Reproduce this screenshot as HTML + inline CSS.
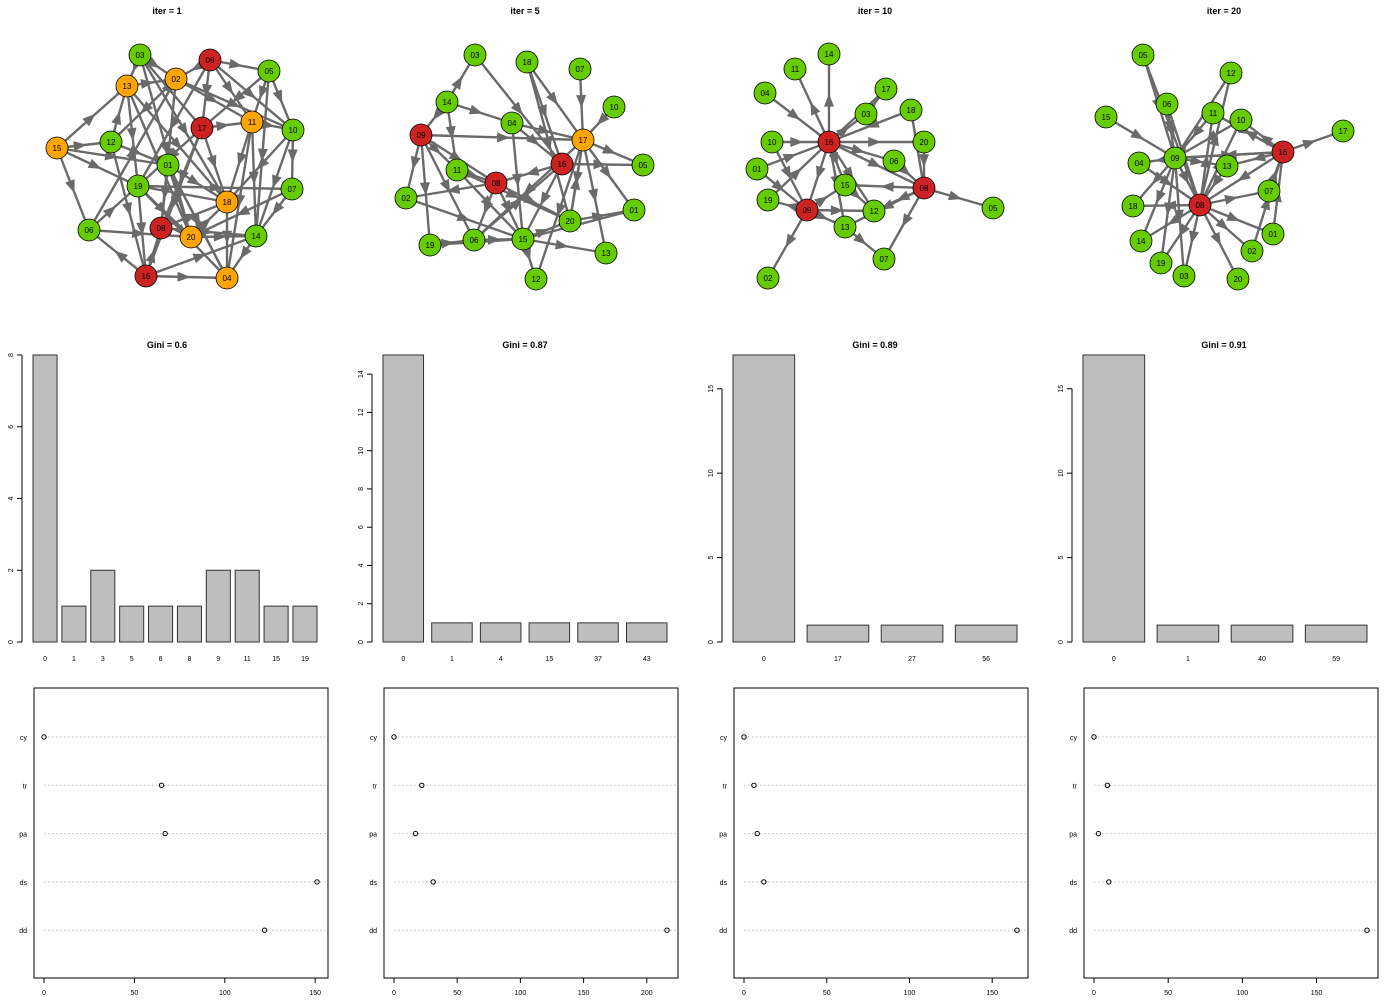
<!DOCTYPE html>
<html><head><meta charset="utf-8"><style>
body{margin:0;background:#fff;}
svg{display:block;font-family:"Liberation Sans",sans-serif;}
</style></head><body>
<svg id="c" width="1400" height="1000" viewBox="0 0 1400 1000"></svg>
<script>
// ---------- data ----------
const iterTitles = ["iter = 1","iter = 5","iter = 10","iter = 20"];
const giniTitles = ["Gini = 0.6","Gini = 0.87","Gini = 0.89","Gini = 0.91"];
const nodes1 = {"03":[140,55,"g"],"09":[210,60,"r"],"05":[269,71,"g"],"13":[127,86,"o"],"02":[176,79,"o"],"17":[202,128,"r"],"11":[252,122,"o"],"10":[293,130,"g"],"12":[111,142,"g"],"15":[57,148,"o"],"01":[168,165,"g"],"19":[138,186,"g"],"07":[292,189,"g"],"18":[227,202,"o"],"06":[89,230,"g"],"08":[161,228,"r"],"20":[191,237,"o"],"14":[256,236,"g"],"16":[146,276,"r"],"04":[227,278,"o"]};
const nodes2 = {"03":[475,55,"g"],"18":[527,62,"g"],"07":[580,69,"g"],"10":[614,107,"g"],"14":[447,102,"g"],"04":[512,123,"g"],"09":[421,135,"r"],"17":[583,140,"o"],"16":[562,164,"r"],"05":[643,165,"g"],"11":[457,170,"g"],"08":[496,183,"r"],"02":[406,198,"g"],"01":[634,210,"g"],"20":[570,221,"g"],"15":[523,239,"g"],"06":[474,240,"g"],"19":[430,245,"g"],"13":[606,253,"g"],"12":[536,279,"g"]};
const nodes3 = {"14":[829,54,"g"],"11":[795,69,"g"],"04":[765,93,"g"],"17":[886,89,"g"],"03":[866,114,"g"],"18":[911,110,"g"],"10":[772,142,"g"],"16":[829,142,"r"],"20":[924,142,"g"],"06":[894,161,"g"],"01":[757,169,"g"],"08":[924,188,"r"],"15":[845,185,"g"],"19":[768,200,"g"],"09":[807,210,"r"],"12":[874,211,"g"],"13":[845,227,"g"],"05":[993,208,"g"],"07":[884,259,"g"],"02":[768,278,"g"]};
const nodes4 = {"05":[1143,55,"g"],"12":[1231,73,"g"],"06":[1167,104,"g"],"15":[1106,117,"g"],"11":[1213,113,"g"],"10":[1241,120,"g"],"17":[1343,131,"g"],"16":[1283,152,"r"],"09":[1175,158,"g"],"04":[1139,163,"g"],"13":[1227,166,"g"],"07":[1269,191,"g"],"18":[1133,206,"g"],"08":[1200,205,"r"],"01":[1273,234,"g"],"14":[1141,241,"g"],"02":[1252,251,"g"],"19":[1161,263,"g"],"03":[1184,276,"g"],"20":[1238,279,"g"]};
const edges1 = "15-13,15-12,15-06,15-19,15-01,03-13,03-02,03-17,03-18,03-20,13-02,13-19,13-18,13-20,09-02,09-05,09-17,09-11,09-10,09-19,02-11,02-10,02-12,02-08,05-17,05-14,05-10,05-11,10-07,10-14,10-18,11-18,11-14,11-04,11-10,17-11,17-19,17-08,17-18,12-13,12-16,12-01,01-18,01-20,01-08,01-04,19-07,19-20,19-16,19-18,19-04,06-19,06-20,06-02,16-06,16-08,16-04,16-14,08-18,08-14,20-14,18-04,14-04,07-14,07-20,20-18,04-01,17-16";
const edges2 = "14-03,14-04,14-09,09-17,09-02,09-19,09-11,09-08,09-06,18-16,18-20,03-16,07-17,10-17,04-16,04-15,04-17,17-05,17-06,17-13,17-01,17-20,17-12,16-05,16-15,16-08,11-08,11-15,11-20,08-15,08-06,08-02,08-20,06-15,19-15,19-06,15-20,15-13,15-01,15-12,20-01,20-17,02-15,06-16,18-17,14-11";
const edges3 = "16-14,16-11,04-16,10-16,16-03,17-16,18-16,16-20,16-06,16-15,16-09,01-16,16-12,16-13,19-16,03-17,18-08,20-08,06-08,08-05,08-15,08-12,08-07,08-13,09-19,01-09,09-02,09-13,09-12,09-15,10-09,15-12,13-07,16-08";
const edges4 = "05-09,06-09,15-09,12-09,11-09,10-09,09-04,09-18,09-14,09-19,09-03,09-08,09-13,16-09,08-12,08-11,08-10,16-08,08-07,08-01,08-02,08-20,08-19,08-03,08-14,08-18,06-08,16-17,16-10,16-11,16-13,01-16,02-16,07-16,04-08,13-08,11-16,05-08,09-16";

const barCats1 = ["0","1","3","5","6","8","9","11","15","19"];
const barVals1 = [8,1,2,1,1,1,2,2,1,1];
const barTicks1 = [0,2,4,6,8];
const barCats2 = ["0","1","4","15","37","43"];
const barVals2 = [15,1,1,1,1,1];
const barTicks2 = [0,2,4,6,8,10,12,14];
const barCats3 = ["0","17","27","56"];
const barVals3 = [17,1,1,1];
const barTicks3 = [0,5,10,15];
const barCats4 = ["0","1","40","59"];
const barVals4 = [17,1,1,1];
const barTicks4 = [0,5,10,15];

const dotCats = ["cy","tr","pa","ds","dd"];
const dotVals1 = [0,65,67,151,122];
const dotVals2 = [0,22,17,31,216];
const dotVals3 = [0,6,8,12,165];
const dotVals4 = [0,9,3,10,184];
const dotTicks1 = [0,50,100,150];
const dotTicks2 = [0,50,100,150,200];
const dotTicks3 = [0,50,100,150];
const dotTicks4 = [0,50,100,150];

// ---------- drawing ----------
const svg = document.getElementById('c');
const NS = "http://www.w3.org/2000/svg";
function mk(tag, attrs, parent){
  const e = document.createElementNS(NS, tag);
  for (const k in attrs) e.setAttribute(k, attrs[k]);
  (parent||svg).appendChild(e);
  return e;
}
function txt(x,y,s,size,anchor,weight,parent,rot){
  const t = mk('text',{x:x,y:y,'font-size':size,'text-anchor':anchor||'middle','font-weight':weight||'normal',fill:'#000'},parent);
  if (rot) t.setAttribute('transform','rotate('+rot+' '+x+' '+y+')');
  t.textContent = s;
  return t;
}
const panelX = [0,350,700,1050];
const centers = [167,525,875,1224];
const colors = {g:"#66cc00",r:"#cc2222",o:"#ffa500"};

const nodesAll=[nodes1,nodes2,nodes3,nodes4], edgesAll=[edges1,edges2,edges3,edges4];
for (let p=0;p<4;p++){
  const g = mk('g',{});
  
  
  const tt = txt(centers[p],14,iterTitles[p],9,'middle','bold',g);
  
  
  const N = nodesAll[p], R = 11;
  edgesAll[p].split(',').forEach(s=>{
    const [a,b] = s.split('-');
    const A=N[a], B=N[b]; if(!A||!B) return;
    const dx=B[0]-A[0], dy=B[1]-A[1], L=Math.hypot(dx,dy), ux=dx/L, uy=dy/L;
    const tipD = Math.min(L*0.55, L - R - 4 - Math.max(0,(L-60)*0.35));
    const tx=A[0]+ux*tipD, ty=A[1]+uy*tipD;
    const ln = mk('line',{x1:A[0],y1:A[1],x2:B[0],y2:B[1],stroke:'#6a6a6a','stroke-width':2.4},g);
    
    
    const bx=tx-ux*13, by=ty-uy*13, px=-uy*5, py=ux*5;
    const ar = mk('polygon',{points:tx+','+ty+' '+(bx+px)+','+(by+py)+' '+(bx-px)+','+(by-py),fill:'#6a6a6a'},g);
    
    
  });
  for (const k in N){
    const [x,y,c]=N[k];
    const ci = mk('circle',{cx:x,cy:y,r:R,fill:colors[c],stroke:'#000','stroke-width':0.8},g);
    
    
    txt(x,y+3,k,8,'middle','normal',g);
  }
}

// bar charts
const barCatsAll=[barCats1,barCats2,barCats3,barCats4], barValsAll=[barVals1,barVals2,barVals3,barVals4], barTicksAll=[barTicks1,barTicks2,barTicks3,barTicks4];
const barMax=[8,15,17,17], barLeft=[33,383,733,1083], barRight=[317,667,1017,1367];
for (let p=0;p<4;p++){
  const g = mk('g',{});
  
  
  const tt = txt(centers[p],348,giniTitles[p],9,'middle','bold',g);
  
  
  const y0=642, y1=355, ys=v=>y0-(v/barMax[p])*(y0-y1);
  const cats=barCatsAll[p], vals=barValsAll[p], n=cats.length;
  const step=(barRight[p]-barLeft[p])/(n-0.2*(1)) ;
  const w=step/1.2, sp=step-w;
  const st=(barRight[p]-barLeft[p]+sp)/n, bw=st-sp;
  const ax=barLeft[p]-11;
  const ticks=barTicksAll[p];
  mk('line',{x1:ax,y1:ys(ticks[0]),x2:ax,y2:ys(ticks[ticks.length-1]),stroke:'#000','stroke-width':1},g);
  ticks.forEach(t=>{
    mk('line',{x1:ax-5,y1:ys(t),x2:ax,y2:ys(t),stroke:'#000','stroke-width':1},g);
    txt(ax-9,ys(t),String(t),7,'middle','normal',g,-90);
  });
  for(let i=0;i<n;i++){
    const x=barLeft[p]+i*st;
    const r = mk('rect',{x:x,y:ys(vals[i]),width:bw,height:y0-ys(vals[i]),fill:'#bebebe',stroke:'#333','stroke-width':1},g);
    
    
    txt(x+bw/2,661,cats[i],7,'middle','normal',g);
  }
}

// dot charts
const dotValsAll=[dotVals1,dotVals2,dotVals3,dotVals4], dotTicksAll=[dotTicks1,dotTicks2,dotTicks3,dotTicks4];
const dotMax=[151,216,165,184], boxL=[34,384,734,1084];
for (let p=0;p<4;p++){
  const g = mk('g',{});
  
  
  const L=boxL[p], Rr=L+294, T=688, B=978;
  const xl=L+10, xr=Rr-11;
  const xs=v=>xl+(v/dotMax[p])*(xr-xl);
  const ys=i=>737+i*48.3;
  mk('rect',{x:L,y:T,width:294,height:290,fill:'none',stroke:'#000','stroke-width':1},g);
  dotCats.forEach((c,i)=>{
    mk('line',{x1:L+10,y1:ys(i),x2:Rr-1,y2:ys(i),stroke:'#bbb','stroke-width':1,'stroke-dasharray':'1.5,2.5'},g);
    txt(L-7,ys(i)+3,c,7,'end','normal',g);
    const pt = mk('circle',{cx:xs(dotValsAll[p][i]),cy:ys(i),r:2.2,fill:'none',stroke:'#000','stroke-width':1},g);
    
    
  });
  const tk=dotTicksAll[p];
  mk('line',{x1:xs(tk[0]),y1:B,x2:xs(tk[tk.length-1]),y2:B,stroke:'#000','stroke-width':1},g);
  tk.forEach(t=>{
    mk('line',{x1:xs(t),y1:B,x2:xs(t),y2:B+5,stroke:'#000','stroke-width':1},g);
    txt(xs(t),995,String(t),7,'middle','normal',g);
  });
}
</script>
</body></html>
